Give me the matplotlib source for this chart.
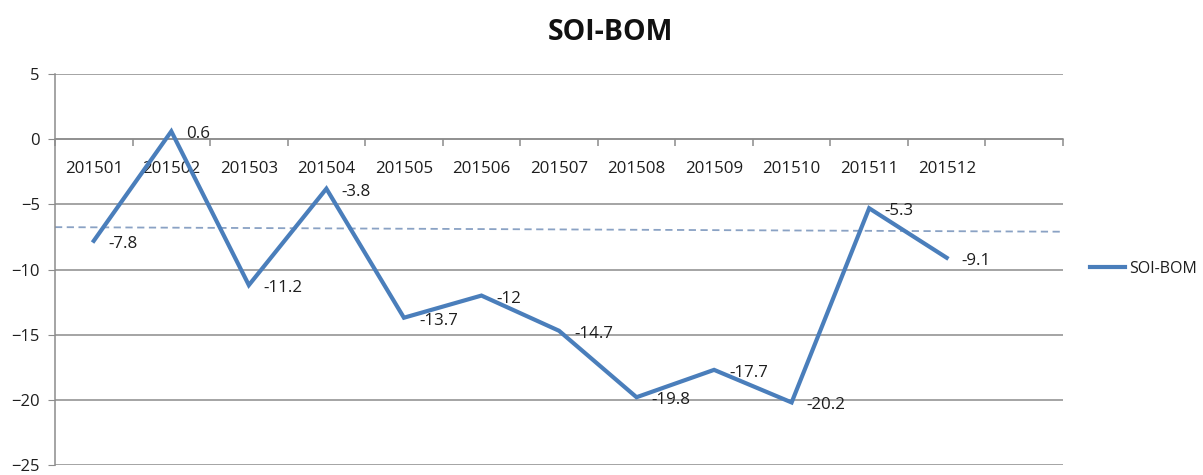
import matplotlib
matplotlib.use("Agg")
import matplotlib.pyplot as plt
from matplotlib.ticker import FixedLocator

# Monthly SOI (BOM) values for 2015
months = ["201501", "201502", "201503", "201504", "201505", "201506",
          "201507", "201508", "201509", "201510", "201511", "201512"]
soi = [-7.8, 0.6, -11.2, -3.8, -13.7, -12, -14.7, -19.8, -17.7, -20.2, -5.3, -9.1]

# Reference level line (value at left and right edge of the plot)
ref_level = [-6.75, -7.1]

y_ticks = [5, 0, -5, -10, -15, -20, -25]

n_slots = len(months) + 1  # one empty category at the end
line_color = "#4A7EBB"
ref_color = "#8AA2C4"
grid_color = "#8C8C8C"
text_color = "#1E1E1E"
font = ["Open Sans", "DejaVu Sans"]
plt.rcParams["font.family"] = font

fig = plt.figure(figsize=(12.03, 4.75), dpi=100)
W, H = 1203, 475
ax = fig.add_axes([55 / W, 10 / H, (1063 - 55) / W, (465 - 74) / H])

xs = list(range(len(months)))
ax.set_xlim(-0.5, n_slots - 0.5)
ax.set_ylim(min(y_ticks), max(y_ticks))

# horizontal gridlines
ax.set_yticks(y_ticks)
ax.yaxis.grid(True, color=grid_color, linewidth=1.1)
ax.set_axisbelow(True)
ax.tick_params(axis="y", length=5, color=grid_color, labelsize=12,
               pad=6, labelcolor=text_color)

for side in ("top", "right"):
    ax.spines[side].set_visible(False)
ax.spines["left"].set_color(grid_color)
ax.spines["left"].set_linewidth(1.1)
ax.spines["bottom"].set_position(("data", 0))
ax.spines["bottom"].set_color(grid_color)
ax.spines["bottom"].set_linewidth(1.1)

# category axis at zero: boundary ticks, labels centred in each slot
ax.xaxis.set_major_locator(FixedLocator([k - 0.5 for k in range(n_slots + 1)]))
ax.xaxis.set_major_formatter(plt.NullFormatter())
ax.xaxis.set_minor_locator(FixedLocator(xs))
ax.set_xticklabels(months, minor=True)
ax.tick_params(axis="x", which="major", direction="out", length=5,
               color=grid_color, width=1.1)
ax.tick_params(axis="x", which="minor", length=0, pad=16, labelsize=12.2,
               labelcolor=text_color)

# reference level (dashed)
ax.plot([-0.5, n_slots - 0.5], ref_level, color=ref_color, linewidth=1.3,
        linestyle=(0, (4, 2.5)), zorder=2)

# main series
ax.plot(xs, soi, color=line_color, linewidth=3.0, solid_joinstyle="miter",
        zorder=3, label="SOI-BOM")

for x, v in zip(xs, soi):
    ax.annotate(f"{v:g}", (x, v), xytext=(15, -3), textcoords="offset pixels",
                ha="left", va="center", fontsize=12.2, color=text_color, zorder=4)

fig.text(610 / W, 1 - 33 / H, "SOI-BOM", ha="center", va="center",
         fontsize=20.5, fontweight="bold", color="#111111")

fig.legend(loc="center left", bbox_to_anchor=(1090 / W, 1 - 269 / H),
           frameon=False, fontsize=11.5, handlelength=2.2, handletextpad=0.25,
           borderpad=0, borderaxespad=0, labelcolor=text_color)

fig.savefig("out.png", dpi=100, facecolor="white")
